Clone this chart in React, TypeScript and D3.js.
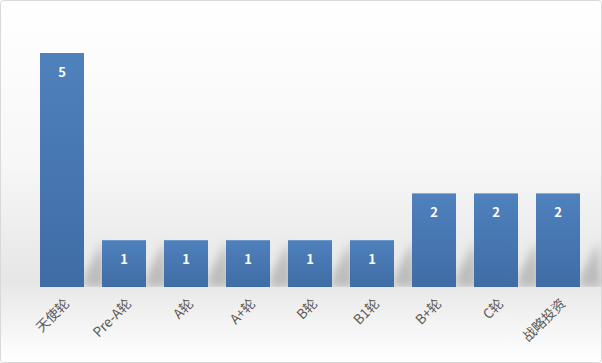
import React from "react";
import * as d3 from "d3";

const categories = ["天使轮", "Pre-A轮", "A轮", "A+轮", "B轮", "B1轮", "B+轮", "C轮", "战略投资"];
const values = [5, 1, 1, 1, 1, 1, 2, 2, 2];

const W = 602;
const H = 363;

export default function App() {
  const x = d3.scaleBand<string>().domain(categories).range([31, 589]).paddingInner(0.29).paddingOuter(0.145);
  const y = d3.scaleLinear().domain([0, 5]).range([287, 53]);
  const bw = x.bandwidth();
  return (
    <svg width={W} height={H} style={{ position: "absolute", left: 0, top: 0 }}>
      <defs>
        <linearGradient id="bg" x1="0" y1="0" x2="0" y2="1">
          <stop offset="0" stopColor="#ffffff" />
          <stop offset="0.45" stopColor="#f7f7f7" />
          <stop offset="0.78" stopColor="#e6e6e6" />
          <stop offset="0.82" stopColor="#ececec" />
          <stop offset="1" stopColor="#ffffff" />
        </linearGradient>
        <linearGradient id="bar" x1="0" y1="0" x2="0" y2="1">
          <stop offset="0" stopColor="#4f81bd" />
          <stop offset="1" stopColor="#3f6ca5" />
        </linearGradient>
        <filter id="blur" x="-50%" y="-50%" width="200%" height="200%">
          <feGaussianBlur stdDeviation="4" />
        </filter>
        <clipPath id="plotclip">
          <rect x={0} y={0} width={W} height={287} />
        </clipPath>
      </defs>
      <rect x={0.5} y={0.5} width={W - 1} height={H - 1} rx={3} fill="url(#bg)" stroke="#d9d9d9" />
      <g clipPath="url(#plotclip)">
        {categories.map((c, i) => {
          const x0 = x(c)!;
          const top = y(values[i]);
          const h = 287 - top;
          const sh = Math.min(h, 45);
          return (
            <path
              key={"s" + c}
              d={`M${x0 + bw},287 L${x0 + bw},${287 - sh * 0.2} L${x0 + bw + 18},${287 - sh} L${x0 + bw + 22},287 Z`}
              fill="#9a9a9a"
              opacity={0.55}
              filter="url(#blur)"
            />
          );
        })}
      </g>
      {categories.map((c, i) => (
        <rect key={c} x={x(c)} y={y(values[i])} width={bw} height={287 - y(values[i])} fill="url(#bar)" />
      ))}
      {categories.map((c, i) => (
        <text
          key={"v" + c}
          x={x(c)! + bw / 2}
          y={y(values[i]) + 24}
          textAnchor="middle"
          fill="#ffffff"
          fontFamily="'Noto Sans CJK SC', 'DejaVu Sans', sans-serif"
          fontWeight="bold"
          fontSize={13}
        >
          {values[i]}
        </text>
      ))}
      {categories.map((c) => {
        const cx = x(c)! + bw / 2 + 5;
        const cy = 301;
        return (
          <text
            key={"l" + c}
            transform={`translate(${cx},${cy}) rotate(-45)`}
            textAnchor="end"
            dy="0.35em"
            fill="#595959"
            fontFamily="'Noto Sans CJK SC', sans-serif"
            fontSize={13.5}
          >
            {c}
          </text>
        );
      })}
    </svg>
  );
}
